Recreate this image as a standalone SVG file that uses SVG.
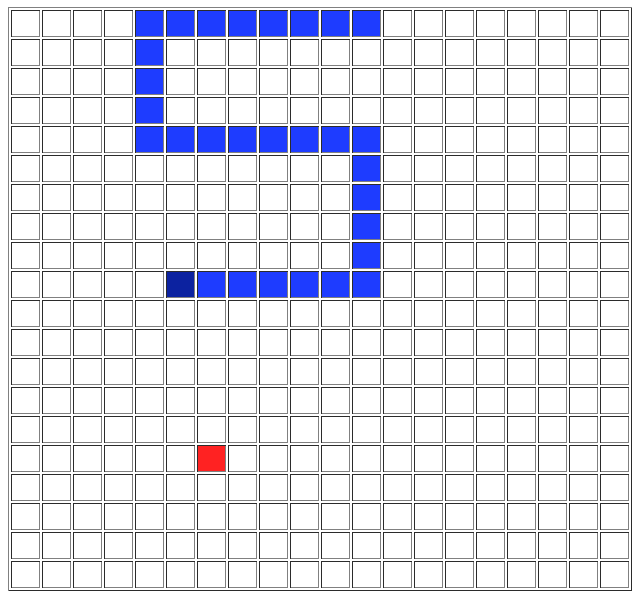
<svg xmlns="http://www.w3.org/2000/svg" xmlns:xlink="http://www.w3.org/1999/xlink" width="643" height="597" viewBox="0 0 643 597">
<style>
.body{fill:#1e3cff}
.head{fill:#0c22a0}
.food{fill:#ff2222}
.dk{fill:#2b2b2b}
.gr{fill:#808080}
</style>
<defs>
<pattern id="cellpat" patternUnits="userSpaceOnUse" x="11" y="10" width="31" height="29">
<rect x="0" y="0" width="31" height="29" fill="#ffffff"/>
<rect class="dk" x="0" y="0" width="29" height="1"/>
<rect class="dk" x="0" y="0" width="1" height="27"/>
<rect class="gr" x="28" y="1" width="1" height="26"/>
<rect class="gr" x="1" y="26" width="28" height="1"/>
</pattern>
<rect id="c" width="27" height="25"/>
</defs>
<rect x="0" y="0" width="643" height="597" fill="#ffffff"/>
<g id="board">
<rect class="gr" x="8" y="7" width="624" height="1"/>
<rect class="gr" x="8" y="7" width="1" height="584"/>
<rect class="dk" x="631" y="8" width="1" height="583"/>
<rect class="dk" x="9" y="590" width="623" height="1"/>
<rect x="11" y="10" width="618" height="578" fill="url(#cellpat)"/>
</g>
<g id="snake">
<use href="#c" class="body" x="136" y="11"/>
<use href="#c" class="body" x="167" y="11"/>
<use href="#c" class="body" x="198" y="11"/>
<use href="#c" class="body" x="229" y="11"/>
<use href="#c" class="body" x="260" y="11"/>
<use href="#c" class="body" x="291" y="11"/>
<use href="#c" class="body" x="322" y="11"/>
<use href="#c" class="body" x="353" y="11"/>
<use href="#c" class="body" x="136" y="40"/>
<use href="#c" class="body" x="136" y="69"/>
<use href="#c" class="body" x="136" y="98"/>
<use href="#c" class="body" x="136" y="127"/>
<use href="#c" class="body" x="167" y="127"/>
<use href="#c" class="body" x="198" y="127"/>
<use href="#c" class="body" x="229" y="127"/>
<use href="#c" class="body" x="260" y="127"/>
<use href="#c" class="body" x="291" y="127"/>
<use href="#c" class="body" x="322" y="127"/>
<use href="#c" class="body" x="353" y="127"/>
<use href="#c" class="body" x="353" y="156"/>
<use href="#c" class="body" x="353" y="185"/>
<use href="#c" class="body" x="353" y="214"/>
<use href="#c" class="body" x="353" y="243"/>
<use href="#c" class="body" x="353" y="272"/>
<use href="#c" class="body" x="322" y="272"/>
<use href="#c" class="body" x="291" y="272"/>
<use href="#c" class="body" x="260" y="272"/>
<use href="#c" class="body" x="229" y="272"/>
<use href="#c" class="body" x="198" y="272"/>
<use href="#c" class="head" x="167" y="272"/>
</g>
<g id="food">
<use href="#c" class="food" x="198" y="446"/>
</g>
</svg>
